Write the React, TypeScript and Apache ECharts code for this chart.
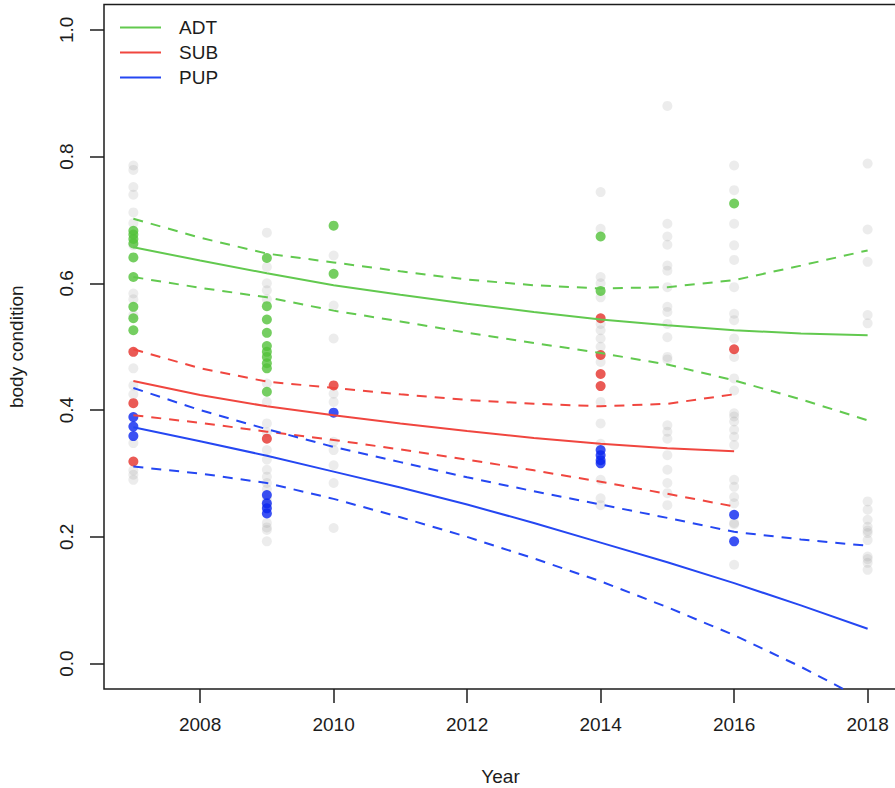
import React, { useEffect, useRef } from "react";
import * as echarts from "echarts";

// Survey years and fitted body-condition trends per age class
const fitYears = [2007, 2008, 2009, 2010, 2011, 2012, 2013, 2014, 2015, 2016, 2017, 2018];
const subYears = [2007, 2008, 2009, 2010, 2011, 2012, 2013, 2014, 2015, 2016];

const adtFit = [0.657, 0.636, 0.616, 0.597, 0.582, 0.568, 0.555, 0.543, 0.534, 0.526, 0.521, 0.518];
const adtUpper = [0.702, 0.672, 0.647, 0.633, 0.619, 0.606, 0.597, 0.592, 0.594, 0.605, 0.628, 0.652];
const adtLower = [0.61, 0.593, 0.578, 0.557, 0.54, 0.522, 0.506, 0.49, 0.472, 0.447, 0.417, 0.384];

const subFit = [0.446, 0.424, 0.406, 0.392, 0.379, 0.367, 0.356, 0.347, 0.34, 0.335];
const subUpper = [0.496, 0.466, 0.445, 0.435, 0.425, 0.416, 0.41, 0.406, 0.41, 0.425];
const subLower = [0.392, 0.38, 0.366, 0.353, 0.338, 0.322, 0.305, 0.287, 0.268, 0.248];

const pupFit = [0.373, 0.351, 0.328, 0.303, 0.278, 0.251, 0.222, 0.191, 0.16, 0.127, 0.092, 0.055];
const pupUpper = [0.435, 0.4, 0.37, 0.342, 0.318, 0.294, 0.272, 0.251, 0.23, 0.208, 0.196, 0.186];
const pupLower = [0.311, 0.3, 0.285, 0.26, 0.231, 0.2, 0.166, 0.13, 0.089, 0.045, -0.005, -0.06];

// All measured individuals (grey background points), by year
const allObs: Record<number, number[]> = {
  2007: [0.786, 0.779, 0.752, 0.74, 0.712, 0.695, 0.66, 0.584, 0.575, 0.55, 0.466, 0.439, 0.425, 0.348, 0.305, 0.298, 0.29],
  2009: [0.68, 0.626, 0.6, 0.589, 0.575, 0.442, 0.413, 0.379, 0.365, 0.337, 0.322, 0.306, 0.295, 0.285, 0.275, 0.26, 0.25, 0.222, 0.215, 0.211, 0.193],
  2010: [0.644, 0.565, 0.513, 0.426, 0.413, 0.35, 0.337, 0.313, 0.285, 0.214],
  2014: [0.744, 0.686, 0.61, 0.6, 0.578, 0.536, 0.526, 0.513, 0.5, 0.476, 0.413, 0.379, 0.347, 0.29, 0.261, 0.25],
  2015: [0.88, 0.694, 0.674, 0.661, 0.628, 0.62, 0.594, 0.563, 0.555, 0.536, 0.515, 0.484, 0.48, 0.376, 0.366, 0.355, 0.329, 0.306, 0.285, 0.269, 0.25],
  2016: [0.786, 0.747, 0.694, 0.66, 0.637, 0.594, 0.552, 0.542, 0.513, 0.484, 0.45, 0.431, 0.395, 0.39, 0.382, 0.369, 0.358, 0.345, 0.29, 0.279, 0.263, 0.253, 0.222, 0.22, 0.156],
  2018: [0.789, 0.685, 0.634, 0.55, 0.537, 0.256, 0.243, 0.227, 0.216, 0.21, 0.206, 0.195, 0.169, 0.165, 0.159, 0.148],
};

// Individuals highlighted by age class, by year
const adtObs: Record<number, number[]> = {
  2007: [0.683, 0.677, 0.67, 0.663, 0.641, 0.61, 0.563, 0.545, 0.526],
  2009: [0.64, 0.564, 0.543, 0.522, 0.501, 0.492, 0.484, 0.474, 0.466, 0.429],
  2010: [0.691, 0.615],
  2014: [0.674, 0.588],
  2016: [0.726],
};
const subObs: Record<number, number[]> = {
  2007: [0.492, 0.411, 0.319],
  2009: [0.355],
  2010: [0.439],
  2014: [0.545, 0.487, 0.457, 0.438],
  2016: [0.496],
};
const pupObs: Record<number, number[]> = {
  2007: [0.389, 0.374, 0.359],
  2009: [0.266, 0.253, 0.245, 0.237],
  2010: [0.396],
  2014: [0.337, 0.329, 0.321, 0.316],
  2016: [0.235, 0.193],
};

const xTicks = [2008, 2010, 2012, 2014, 2016, 2018];
const yTicks = [0, 0.2, 0.4, 0.6, 0.8, 1.0];
const classNames = ["ADT", "SUB", "PUP"];

const FONT = "'Liberation Sans', Arial, Helvetica, sans-serif";
const INK = "#1c1c1c";
const lineColors = { ADT: "#62c94f", SUB: "#f0463f", PUP: "#2547f2" };
const pointColors = { ADT: "#52c23a", SUB: "#e5312a", PUP: "#0a26f0" };

const toPoints = (obs: Record<number, number[]>) =>
  Object.entries(obs).flatMap(([yr, vals]) => vals.map((v) => [Number(yr), v]));
const pair = (xs: number[], ys: number[]) => xs.map((x, i) => [x, ys[i]]);

export default function App() {
  const ref = useRef<HTMLDivElement>(null);

  useEffect(() => {
    if (!ref.current) return;
    const chart = echarts.init(ref.current, null, { renderer: "svg" });

    const fitLine = (name: string, xs: number[], ys: number[], color: string, dashed: boolean) => ({
      name,
      type: "line",
      data: pair(xs, ys),
      showSymbol: false,
      symbol: "none",
      smooth: false,
      itemStyle: { color },
      lineStyle: { color, width: 2, type: dashed ? [10, 8] : "solid" },
      z: 5,
    });

    const dots = (name: string, obs: Record<number, number[]>, color: string) => ({
      name,
      type: "scatter",
      data: toPoints(obs),
      symbol: "circle",
      symbolSize: 10,
      itemStyle: { color, borderWidth: 0 },
      z: 3,
    });

    chart.setOption({
      animation: false,
      backgroundColor: "#ffffff",
      grid: {
        left: 104,
        top: 4.5,
        width: 793,
        height: 684.5,
        outerBoundsMode: "none",
        containLabel: false,
        show: true,
        borderColor: INK,
        borderWidth: 1.5,
        backgroundColor: "transparent",
      },
      legend: {
        orient: "vertical",
        left: 120,
        top: 15,
        padding: 0,
        itemWidth: 41,
        itemHeight: 2,
        itemGap: 0,
        icon: "rect",
        data: classNames,
        selectedMode: false,
        textStyle: {
          fontFamily: FONT,
          fontSize: 19,
          color: INK,
          lineHeight: 25,
          padding: [0, 0, 0, 13],
        },
      },
      xAxis: {
        type: "value",
        min: 2006.56,
        max: 2018.44,
        name: "Year",
        nameLocation: "middle",
        nameGap: 78,
        nameTextStyle: { fontFamily: FONT, fontSize: 19, color: INK },
        axisLine: { show: false, onZero: false },
        splitLine: { show: false },
        axisTick: {
          show: true,
          inside: false,
          customValues: xTicks,
          length: 14,
          lineStyle: { color: INK, width: 1.5 },
        },
        axisLabel: {
          customValues: xTicks,
          margin: 26,
          fontFamily: FONT,
          fontSize: 19,
          color: INK,
          formatter: (v: number) => String(v),
        },
      },
      yAxis: {
        type: "value",
        min: -0.04,
        max: 1.04,
        name: "body condition",
        nameLocation: "middle",
        nameGap: 78,
        nameTextStyle: { fontFamily: FONT, fontSize: 19, color: INK },
        axisLine: { show: false, onZero: false },
        splitLine: { show: false },
        axisTick: {
          show: true,
          inside: false,
          customValues: yTicks,
          length: 14,
          lineStyle: { color: INK, width: 1.5 },
        },
        axisLabel: {
          customValues: yTicks,
          rotate: 90,
          margin: 28,
          fontFamily: FONT,
          fontSize: 19,
          color: INK,
          formatter: (v: number) => v.toFixed(1),
        },
      },
      series: [
        {
          name: "all",
          type: "scatter",
          data: toPoints(allObs),
          symbol: "circle",
          symbolSize: 10,
          itemStyle: { color: "rgba(130,130,130,0.19)", borderWidth: 0 },
          z: 2,
        },
        dots("ADT obs", adtObs, pointColors.ADT),
        dots("SUB obs", subObs, pointColors.SUB),
        dots("PUP obs", pupObs, pointColors.PUP),
        fitLine("ADT", fitYears, adtFit, lineColors.ADT, false),
        fitLine("ADT upper", fitYears, adtUpper, lineColors.ADT, true),
        fitLine("ADT lower", fitYears, adtLower, lineColors.ADT, true),
        fitLine("SUB", subYears, subFit, lineColors.SUB, false),
        fitLine("SUB upper", subYears, subUpper, lineColors.SUB, true),
        fitLine("SUB lower", subYears, subLower, lineColors.SUB, true),
        fitLine("PUP", fitYears, pupFit, lineColors.PUP, false),
        fitLine("PUP upper", fitYears, pupUpper, lineColors.PUP, true),
        fitLine("PUP lower", fitYears, pupLower, lineColors.PUP, true),
      ],
    });

    return () => chart.dispose();
  }, []);

  return (
    <div
      ref={ref}
      style={{ position: "absolute", left: 0, top: 0, width: 895, height: 788, overflow: "hidden" }}
    />
  );
}
